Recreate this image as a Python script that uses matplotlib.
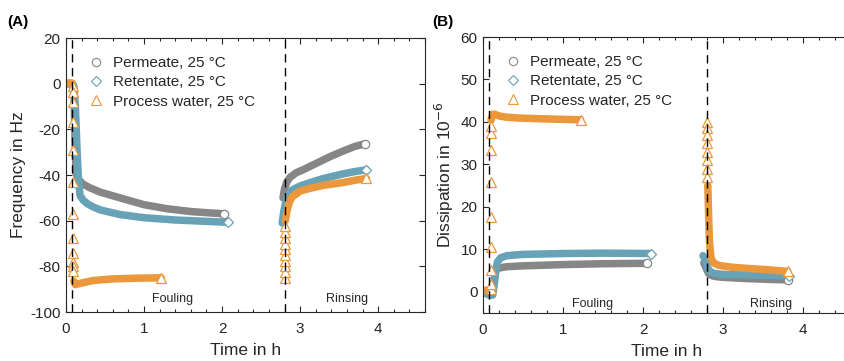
import matplotlib
matplotlib.use("Agg")
import matplotlib.pyplot as plt
from matplotlib.lines import Line2D
from matplotlib.ticker import MultipleLocator

plt.rcParams['font.family'] = ['Liberation Sans', 'DejaVu Sans']
plt.rcParams['axes.unicode_minus'] = False

GREY = '#868686'
BLUE = '#67a2b7'
ORANGE = '#ea983b'
INK = '#262626'

# ---- (A) frequency shift, Hz ----
# permeate
perm_f_t = [0, 0.04, 0.08, 0.1, 0.11, 0.12, 0.13, 0.16, 0.22, 0.3, 0.44, 0.69, 1.0, 1.3, 1.6, 1.8, 2.03]
perm_f_v = [0, 0, 0, -2, -15, -30, -39, -42, -44, -45.5, -47.5, -50, -53, -54.8, -56, -56.5, -57]
perm_r_t = [2.78, 2.8, 2.83, 2.87, 2.95, 3.05, 3.2, 3.38, 3.55, 3.7, 3.83]
perm_r_v = [-50, -46, -43, -41, -39, -37.5, -35, -32, -29.5, -27.5, -26.3]
# retentate
ret_f_t = [0, 0.04, 0.08, 0.1, 0.12, 0.14, 0.16, 0.18, 0.22, 0.27, 0.35, 0.44, 0.69, 1.0, 1.4, 1.8, 2.07]
ret_f_v = [0, 0, 0, -1, -10, -28, -42, -49, -51, -52.5, -54, -55.3, -57.3, -58.7, -59.7, -60.3, -60.7]
ret_r_t = [2.77, 2.79, 2.82, 2.86, 2.9, 3.0, 3.13, 3.3, 3.55, 3.7, 3.85]
ret_r_v = [-61, -56, -51, -48, -46.5, -44.8, -43.3, -41.5, -39.5, -38.5, -37.7]
# process water
pw_pre_t = [0, 0.04, 0.08]
pw_pre_v = [0.3, 0.3, 0.3]
pw_drop_t = [0.09] * 12
pw_drop_v = [-1, -3.5, -8, -17, -29, -43, -57, -67.5, -74, -78, -80, -82]
pw_f_t = [0.1, 0.12, 0.2, 0.35, 0.6, 0.9, 1.22]
pw_f_v = [-86.5, -88, -87.3, -86.2, -85.5, -85.2, -85]
pw_jump_t = [2.8] * 10
pw_jump_v = [-85, -82.5, -80, -77.5, -75, -72.5, -70, -67.5, -65, -62.5]
pw_r_t = [2.81, 2.83, 2.86, 2.9, 3.0, 3.13, 3.3, 3.55, 3.7, 3.85]
pw_r_v = [-60, -56, -52, -49.5, -47, -45.8, -44.5, -43.3, -42.3, -41.5]

# ---- (B) dissipation shift, 1e-6 ----
perm_fd_t = [0, 0.04, 0.08, 0.12, 0.14, 0.16, 0.2, 0.3, 0.5, 1.0, 1.5, 2.05]
perm_fd_v = [0, 0, 0, 0.3, 3, 5, 5.6, 5.9, 6.1, 6.4, 6.6, 6.7]
perm_rd_t = [2.76, 2.79, 2.82, 2.86, 2.9, 3.0, 3.3, 3.6, 3.81]
perm_rd_v = [6.8, 5.5, 4.3, 3.8, 3.6, 3.4, 3.1, 2.9, 2.8]
ret_fd_t = [0, 0.04, 0.08, 0.12, 0.14, 0.16, 0.18, 0.22, 0.3, 0.5, 1.0, 1.5, 2.1]
ret_fd_v = [0, -0.5, -0.8, -0.8, 1.5, 5, 7, 8, 8.5, 8.8, 9, 9.1, 9.0]
ret_rd_t = [2.75, 2.78, 2.81, 2.85, 2.9, 3.0, 3.2, 3.5, 3.82]
ret_rd_v = [8.5, 7.5, 5.5, 4.6, 4.3, 4.1, 4.0, 3.9, 3.8]
pw_pred_t = [0, 0.04, 0.08]
pw_pred_v = [0.3, 0.3, 0.5]
pw_dropd_t = [0.1] * 9
pw_dropd_v = [0.7, 1.9, 5.2, 10.5, 17.7, 25.8, 33.3, 37.3, 39]
pw_fd_t = [0.1, 0.12, 0.15, 0.2, 0.3, 0.46, 0.8, 1.22]
pw_fd_v = [40.4, 41.8, 41.8, 41.4, 41.1, 40.9, 40.7, 40.5]
pw_jumpd_t = [2.8] * 8
pw_jumpd_v = [40, 38.5, 37, 35, 33, 31, 29, 27]
pw_rd_t = [2.81, 2.82, 2.83, 2.85, 2.88, 2.95, 3.1, 3.3, 3.55, 3.81]
pw_rd_v = [25, 18, 12, 8, 6.8, 6.2, 5.8, 5.5, 5.2, 4.8]

labels = ['Permeate, 25 °C', 'Retentate, 25 °C', 'Process water, 25 °C']
markers = ['o', 'D', '^']
colors = [GREY, BLUE, ORANGE]
phase_lines = [0.08, 2.8]


def band(ax, t, v, color, marker, ms):
    # dense measurement points drawn as a thick trace, last point as open marker
    ax.plot(t, v, color=color, lw=5.4, solid_capstyle='round',
            solid_joinstyle='round', zorder=2)
    ax.plot(t[-1:], v[-1:], ls='none', marker=marker, ms=ms, mfc='white',
            mec=color, mew=0.9, zorder=3)


def sparse(ax, t, v, color, marker, ms):
    ax.plot(t, v, ls='none', marker=marker, ms=ms, mfc='white',
            mec=color, mew=0.9, zorder=3)


def style(ax, ylim, ystep, ylabel, text_y):
    ax.set_xlim(0, 4.6)
    ax.set_ylim(*ylim)
    ax.xaxis.set_major_locator(MultipleLocator(1))
    ax.xaxis.set_minor_locator(MultipleLocator(0.2))
    ax.yaxis.set_major_locator(MultipleLocator(ystep))
    ax.tick_params(which='both', direction='in', top=True, right=True,
                   colors=INK, labelsize=11, width=0.8, pad=4)
    ax.tick_params(axis='x', which='major', pad=7)
    ax.tick_params(which='major', length=4.5)
    ax.tick_params(which='minor', length=2.5)
    for s in ax.spines.values():
        s.set_color(INK)
        s.set_linewidth(0.8)
    ax.set_xlabel('Time in h', fontsize=12.5, color=INK, labelpad=5)
    ax.set_ylabel(ylabel, fontsize=12.5, color=INK, labelpad=3)
    for x in phase_lines:
        ax.axvline(x, color='black', lw=1.0, ls=(0, (6, 4)), zorder=5)
    ax.text(1.37, text_y, 'Fouling', fontsize=9, color=INK, ha='center', va='bottom')
    ax.text(3.6, text_y, 'Rinsing', fontsize=9, color=INK, ha='center', va='bottom')
    handles = [Line2D([], [], ls='none', marker=m, ms=ms, mfc='white', mec=c, mew=0.8)
               for m, c, ms in zip(markers, colors, [6, 5, 7])]
    ax.legend(handles, labels, loc='upper left', bbox_to_anchor=(0.02, 0.985),
              frameon=False, fontsize=11, handletextpad=0.5, labelspacing=0.35,
              handlelength=1.2, labelcolor=INK)


fig = plt.figure(figsize=(8.45, 3.61), dpi=100)
ax1 = fig.add_axes([0.0781, 0.1357, 0.4249, 0.759])
ax2 = fig.add_axes([0.5716, 0.1330, 0.4355, 0.7645])

# (A)
band(ax1, perm_f_t, perm_f_v, GREY, 'o', 6)
band(ax1, perm_r_t, perm_r_v, GREY, 'o', 6)
band(ax1, ret_f_t, ret_f_v, BLUE, 'D', 5)
band(ax1, ret_r_t, ret_r_v, BLUE, 'D', 5)
ax1.plot(pw_pre_t, pw_pre_v, color=ORANGE, lw=5.4, solid_capstyle='round', zorder=2)
sparse(ax1, pw_drop_t, pw_drop_v, ORANGE, '^', 7)
band(ax1, pw_f_t, pw_f_v, ORANGE, '^', 7)
sparse(ax1, pw_jump_t, pw_jump_v, ORANGE, '^', 7)
band(ax1, pw_r_t, pw_r_v, ORANGE, '^', 7)
style(ax1, (-100, 20), 20, 'Frequency in Hz', -97)

# (B)
band(ax2, perm_fd_t, perm_fd_v, GREY, 'o', 6)
band(ax2, perm_rd_t, perm_rd_v, GREY, 'o', 6)
band(ax2, ret_fd_t, ret_fd_v, BLUE, 'D', 5)
band(ax2, ret_rd_t, ret_rd_v, BLUE, 'D', 5)
ax2.plot(pw_pred_t, pw_pred_v, color=ORANGE, lw=5.4, solid_capstyle='round', zorder=2)
sparse(ax2, pw_dropd_t, pw_dropd_v, ORANGE, '^', 7)
band(ax2, pw_fd_t, pw_fd_v, ORANGE, '^', 7)
sparse(ax2, pw_jumpd_t, pw_jumpd_v, ORANGE, '^', 7)
band(ax2, pw_rd_t, pw_rd_v, ORANGE, '^', 7)
style(ax2, (-5, 60), 10, 'Dissipation in 10$^{-6}$', -4.3)

fig.text(0.009, 0.94, '(A)', fontsize=11, fontweight='bold', color='black', va='center')
fig.text(0.512, 0.94, '(B)', fontsize=11, fontweight='bold', color='black', va='center')

fig.savefig('out.png', dpi=100)
